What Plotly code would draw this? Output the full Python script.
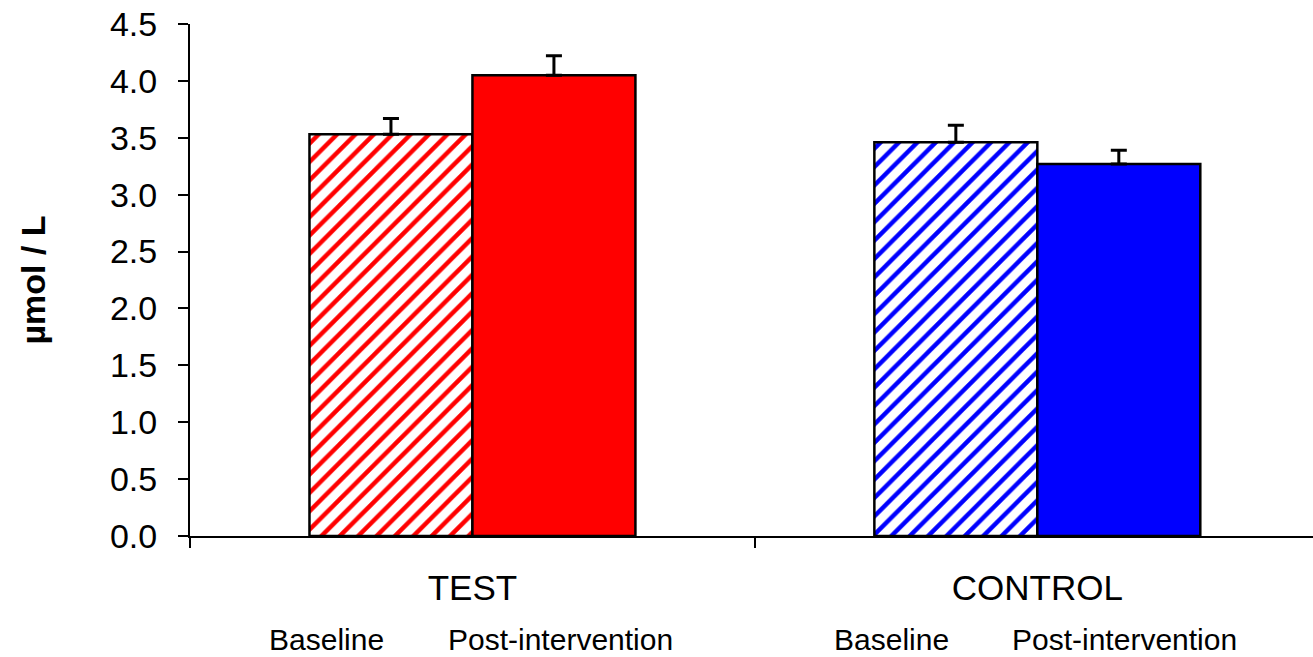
import plotly.graph_objects as go

# Group names and the two time points
groups = ["TEST", "CONTROL"]
timepoints = ["Baseline", "Post-intervention"]

# Mean concentration (µmol/L) and upper error (SEM) per group
baseline_mean = [3.53, 3.46]
baseline_err = [0.14, 0.15]
post_mean = [4.05, 3.27]
post_err = [0.17, 0.12]

# Colour for each group
group_colors = ["#FF0000", "#0000FF"]

# Horizontal placement of the time-point captions relative to the group centre
caption_offsets = [-0.258, 0.155]

FONT = "Liberation Sans, Arial, sans-serif"

fig = go.Figure()

fig.add_trace(go.Bar(
    name=timepoints[0],
    x=groups,
    y=baseline_mean,
    marker=dict(
        color="white",
        line=dict(color="black", width=2.5),
        pattern=dict(shape="/", fgcolor=group_colors, bgcolor="white",
                     size=13, solidity=0.34, fillmode="replace"),
    ),
    error_y=dict(type="data", symmetric=False, array=baseline_err,
                 arrayminus=[0, 0], color="black", thickness=3, width=8),
))

fig.add_trace(go.Bar(
    name=timepoints[1],
    x=groups,
    y=post_mean,
    marker=dict(color=group_colors, line=dict(color="black", width=2.5)),
    error_y=dict(type="data", symmetric=False, array=post_err,
                 arrayminus=[0, 0], color="black", thickness=3, width=8),
))

# Time-point captions under each group
annotations = []
for gi, _ in enumerate(groups):
    for label, off in zip(timepoints, caption_offsets):
        annotations.append(dict(
            x=gi + off, xref="x", y=-0.203, yref="paper",
            text=label, showarrow=False, xanchor="center", yanchor="middle",
            font=dict(family=FONT, size=30, color="black"),
        ))

fig.update_layout(
    width=1313, height=657,
    margin=dict(l=190, r=0, t=24, b=121),
    paper_bgcolor="white", plot_bgcolor="white",
    barmode="group", bargap=0.423, bargroupgap=0,
    showlegend=False,
    font=dict(family=FONT, color="black"),
    annotations=annotations,
    xaxis=dict(
        type="category", range=[-0.5, 1.488],
        showline=True, linecolor="black", linewidth=2,
        ticks="outside", tickson="boundaries", ticklen=10, tickwidth=2,
        tickcolor="black", showgrid=False, zeroline=False,
        tickfont=dict(family=FONT, size=35, color="black"),
        ticklabelstandoff=20,
    ),
    yaxis=dict(
        range=[0, 4.5], dtick=0.5, tickformat=".1f",
        showline=True, linecolor="black", linewidth=2,
        ticks="outside", ticklen=10, tickwidth=2, tickcolor="black",
        showgrid=False, zeroline=False,
        tickfont=dict(family=FONT, size=34, color="black"),
        ticklabelstandoff=14,
        title=dict(text="<b>µmol / L</b>", standoff=54,
                   font=dict(family=FONT, size=34, color="black")),
    ),
)

fig.write_html("out.html")
